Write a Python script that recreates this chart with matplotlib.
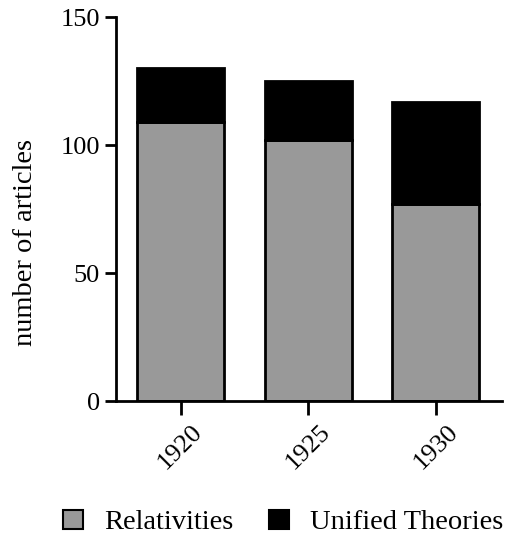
import matplotlib
matplotlib.use("Agg")
import matplotlib.pyplot as plt
import numpy as np
from matplotlib.patches import Patch

# --------------DATA--------------
years = ["1920", "1925", "1930"]
relativities = [109, 102, 77]
unified = [21, 23, 40]

gray = "#999999"

plt.rcParams['font.family'] = ['Liberation Serif', 'DejaVu Serif']
plt.rcParams['font.size'] = 19

fig = plt.figure(figsize=(5.09, 5.34), dpi=100)
ax = fig.add_axes([0.228, 0.249, 0.758, 0.719])

x = np.arange(len(years))
w = 0.68
ax.bar(x, relativities, w, color=gray, edgecolor="black", linewidth=2, label="Relativities")
ax.bar(x, unified, w, bottom=relativities, color="black", edgecolor="black", linewidth=2,
       label="Unified Theories")

ax.set_xlim(-0.505, 2.517)
ax.set_ylim(0, 150)
ax.set_yticks([0, 50, 100, 150])
ax.set_xticks(x)
ax.set_xticklabels(years, rotation=45, ha="center", va="top")
ax.set_ylabel("number of articles", fontsize=20.5, labelpad=16)
ax.yaxis.label.set_y(0.414)

for s in ["top", "right"]:
    ax.spines[s].set_visible(False)
for s in ["left", "bottom"]:
    ax.spines[s].set_linewidth(2)
ax.tick_params(axis="both", width=2, length=8, direction="out")
ax.tick_params(axis="x", length=10, pad=4)

handles = [Patch(facecolor=gray, edgecolor="black", linewidth=1.5, label="Relativities"),
           Patch(facecolor="black", edgecolor="black", linewidth=1.5, label="Unified Theories")]
fig.legend(handles=handles, loc="lower left", bbox_to_anchor=(0.118, -0.008), ncol=2,
           frameon=False, fontsize=20.5, borderpad=0.1, borderaxespad=0,
           handlelength=0.7, handleheight=0.66, columnspacing=1.25, handletextpad=0.75)

fig.savefig("out.png", dpi=100)
